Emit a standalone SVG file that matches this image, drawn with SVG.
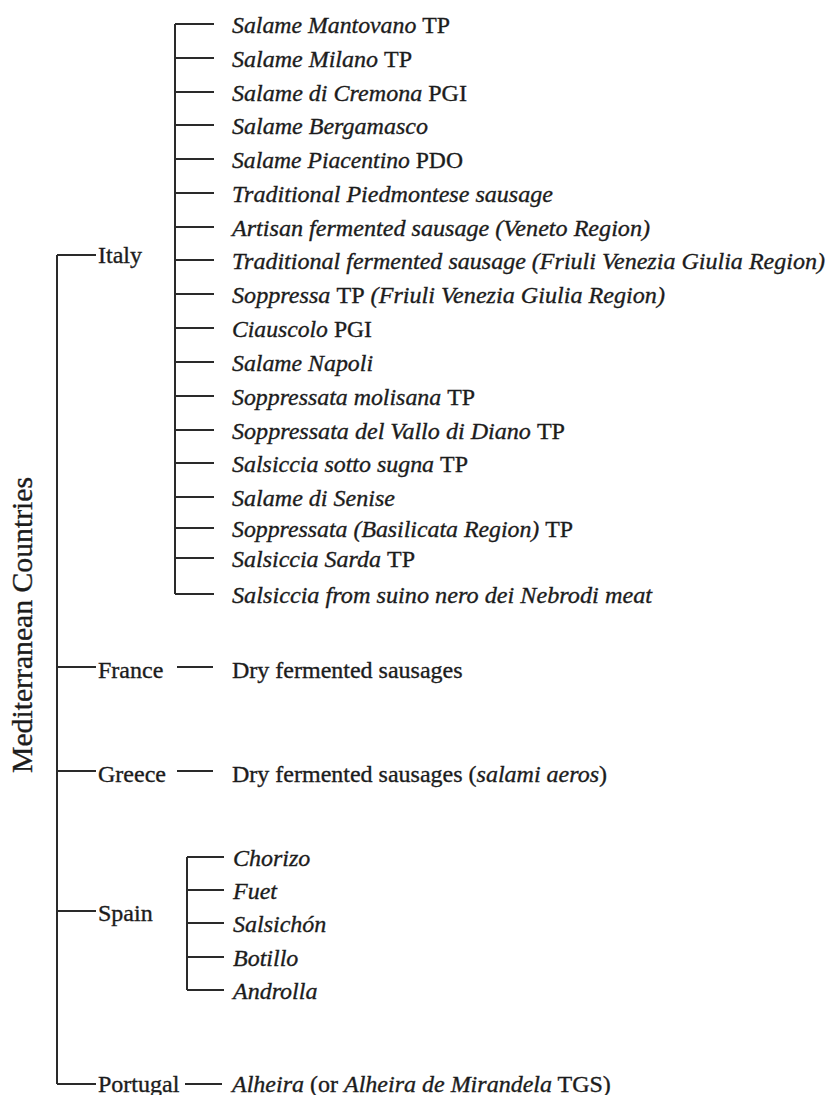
<svg xmlns="http://www.w3.org/2000/svg" width="828" height="1095" viewBox="0 0 828 1095">
<style>
text{font-family:"Liberation Serif","Times New Roman",serif;fill:#1c1c1c;stroke:#1c1c1c;stroke-width:0.35;font-size:24px;}
.it{font-style:italic;}
.up{font-style:normal;}
.ln{stroke:#2a2a2a;stroke-width:2;fill:none;}
</style>
<rect width="828" height="1095" fill="#ffffff"/>
<g id="connectors" class="ln">
<path d="M57,255V1084M57,255H96M57,667H96M57,771H96M57,911H96M57,1084H96"/>
<path d="M177,667H213M177,771H213M185,1084H222"/>
<path d="M175,24V594M175,24H214M175,58H214M175,92H214M175,125H214M175,159H214M175,193H214M175,227H214M175,260H214M175,294H214M175,328H214M175,362H214M175,396H214M175,430H214M175,463H214M175,497H214M175,528H214M175,558H214M175,594H214"/>
<path d="M187,857V990M187,857H224M187,890H224M187,923H224M187,957H224M187,990H224"/>
</g>
<g id="root"><text font-size="29" style="font-size:29px" transform="translate(32,625) rotate(-90)" text-anchor="middle" textLength="296" lengthAdjust="spacingAndGlyphs">Mediterranean Countries</text></g>
<g id="italy"><text x="98" y="263">Italy</text></g>
<g id="italy-items">
<text class="it" x="232" y="33" textLength="218" lengthAdjust="spacingAndGlyphs">Salame Mantovano <tspan class="up">TP</tspan></text>
<text class="it" x="232" y="67" textLength="180" lengthAdjust="spacingAndGlyphs">Salame Milano <tspan class="up">TP</tspan></text>
<text class="it" x="232" y="101" textLength="235" lengthAdjust="spacingAndGlyphs">Salame di Cremona <tspan class="up">PGI</tspan></text>
<text class="it" x="232" y="134" textLength="196" lengthAdjust="spacingAndGlyphs">Salame Bergamasco</text>
<text class="it" x="232" y="168" textLength="231" lengthAdjust="spacingAndGlyphs">Salame Piacentino <tspan class="up">PDO</tspan></text>
<text class="it" x="232" y="202" textLength="321" lengthAdjust="spacingAndGlyphs">Traditional Piedmontese sausage</text>
<text class="it" x="232" y="236" textLength="418" lengthAdjust="spacingAndGlyphs">Artisan fermented sausage (Veneto Region)</text>
<text class="it" x="232" y="269" textLength="593" lengthAdjust="spacingAndGlyphs">Traditional fermented sausage (Friuli Venezia Giulia Region)</text>
<text class="it" x="232" y="303" textLength="433" lengthAdjust="spacingAndGlyphs">Soppressa <tspan class="up">TP</tspan> (Friuli Venezia Giulia Region)</text>
<text class="it" x="232" y="337" textLength="140" lengthAdjust="spacingAndGlyphs">Ciauscolo <tspan class="up">PGI</tspan></text>
<text class="it" x="232" y="371" textLength="141" lengthAdjust="spacingAndGlyphs">Salame Napoli</text>
<text class="it" x="232" y="405" textLength="243" lengthAdjust="spacingAndGlyphs">Soppressata molisana <tspan class="up">TP</tspan></text>
<text class="it" x="232" y="439" textLength="333" lengthAdjust="spacingAndGlyphs">Soppressata del Vallo di Diano <tspan class="up">TP</tspan></text>
<text class="it" x="232" y="472" textLength="236" lengthAdjust="spacingAndGlyphs">Salsiccia sotto sugna <tspan class="up">TP</tspan></text>
<text class="it" x="232" y="506" textLength="163" lengthAdjust="spacingAndGlyphs">Salame di Senise</text>
<text class="it" x="232" y="537" textLength="341" lengthAdjust="spacingAndGlyphs">Soppressata (Basilicata Region) <tspan class="up">TP</tspan></text>
<text class="it" x="232" y="567" textLength="183" lengthAdjust="spacingAndGlyphs">Salsiccia Sarda <tspan class="up">TP</tspan></text>
<text class="it" x="232" y="603" textLength="420" lengthAdjust="spacingAndGlyphs">Salsiccia from suino nero dei Nebrodi meat</text>
</g>
<g id="france"><text x="98" y="678">France</text></g>
<g id="france-items"><text x="232" y="678">Dry fermented sausages</text></g>
<g id="greece"><text x="98" y="782">Greece</text></g>
<g id="greece-items"><text x="232" y="782">Dry fermented sausages (<tspan class="it">salami aeros</tspan>)</text></g>
<g id="spain"><text x="98" y="921">Spain</text></g>
<g id="spain-items">
<text class="it" x="233" y="866">Chorizo</text>
<text class="it" x="233" y="899">Fuet</text>
<text class="it" x="233" y="932">Salsichón</text>
<text class="it" x="233" y="966">Botillo</text>
<text class="it" x="233" y="999">Androlla</text>
</g>
<g id="portugal"><text x="98" y="1092">Portugal</text></g>
<g id="portugal-items"><text x="232" y="1092"><tspan class="it">Alheira</tspan> (or <tspan class="it">Alheira de Mirandela</tspan> TGS)</text></g>
</svg>
